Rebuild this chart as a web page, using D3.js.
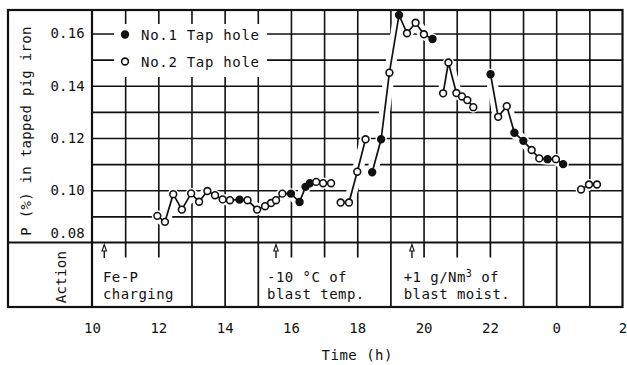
<!DOCTYPE html>
<html>
<head>
<meta charset="utf-8">
<script src="https://cdn.jsdelivr.net/npm/d3@7"></script>
<style>
  body { margin: 0; background: #fff; }
  text { font-family: "DejaVu Sans Mono", monospace; font-size: 14px; fill: #111; }
</style>
</head>
<body>
<svg id="chart" width="627" height="365"></svg>
<script>
// Data (time in hours, 24 = midnight)
const time = [
  11.97, 12.20, 12.45, 12.71, 12.99, 13.23, 13.48, 13.71, 13.94, 14.16, 14.45, 14.69,
  14.98, 15.22, 15.40, 15.55, 15.74, 16.00, 16.26, 16.44, 16.57, 16.76, 16.97, 17.21,
  17.50, 17.75, 18.00, 18.25,
  18.45, 18.72, 18.97, 19.26, 19.50, 19.76, 20.01, 20.27,
  20.59, 20.75, 20.99, 21.16, 21.32, 21.50,
  22.02, 22.25, 22.51, 22.74, 23.01, 23.26, 23.49, 23.74, 23.99, 24.21,
  24.75, 24.99, 25.23
];
const pValue = [
  0.0902, 0.0879, 0.0985, 0.0926, 0.0988, 0.0956, 0.0997, 0.0981, 0.0965, 0.0962, 0.0964, 0.0962,
  0.0926, 0.0939, 0.0951, 0.0962, 0.0987, 0.0987, 0.0955, 0.1013, 0.1027, 0.1032, 0.1027, 0.1027,
  0.0953, 0.0953, 0.1071, 0.1195,
  0.1069, 0.1195, 0.1450, 0.1671, 0.1601, 0.1641, 0.1597, 0.1579,
  0.1371, 0.1489, 0.1372, 0.1359, 0.1345, 0.1318,
  0.1444, 0.1281, 0.1322, 0.1220, 0.1189, 0.1154, 0.1122, 0.1119, 0.1119, 0.1100,
  0.1003, 0.1022, 0.1022
];
// 1 = No.1 tap hole (filled), 2 = No.2 tap hole (open)
const tapHole = [
  2, 2, 2, 2, 2, 2, 2, 2, 2, 2, 1, 2,
  2, 2, 2, 2, 2, 1, 1, 1, 1, 2, 2, 2,
  2, 2, 2, 2,
  1, 1, 2, 1, 2, 2, 2, 1,
  2, 2, 2, 2, 2, 2,
  1, 2, 2, 1, 1, 2, 2, 1, 2, 1,
  2, 2, 2
];
// connected runs of the line
const run = [
  0, 0, 0, 0, 0, 0, 0, 0, 0, 0, 0, 0,
  0, 0, 0, 0, 0, 0, 0, 0, 0, 0, 0, 0,
  1, 1, 1, 1,
  2, 2, 2, 2, 2, 2, 2, 2,
  3, 3, 3, 3, 3, 3,
  4, 4, 4, 4, 4, 4, 4, 4, 4, 4,
  5, 5, 5
];

const legendLabels = ["No.1 Tap hole", "No.2 Tap hole"];
const xTicks = [10, 12, 14, 16, 18, 20, 22, 24, 26];
const yTicks = [0.08, 0.10, 0.12, 0.14, 0.16];
const yGrid = [0.09, 0.10, 0.11, 0.12, 0.13, 0.14, 0.15, 0.16];
const xGrid = [11, 12, 13, 14, 15, 16, 17, 18, 19, 20, 21, 22, 23, 24, 25];
const actionFullLines = [13, 14, 15, 19, 23, 24, 25];
const actionShortTicks = [11, 12, 16, 17, 18, 20, 21, 22];
const actionTimes = [10.37, 15.55, 19.65];
const actionTextTime = [10.33, 15.28, 19.40];
const actionLine1 = ["Fe-P", "-10 °C of", "+1 g/Nm|3| of"];
const actionLine2 = ["charging", "blast temp.", "blast moist."];

// Layout
const frame = {left: 8, top: 10, right: 622.5, bottom: 307};
const plot = {left: 92, right: 622.5, top: 10, bottom: 242.5};
const ink = "#111";

const svg = d3.select("#chart");

const x = d3.scaleLinear().domain([10, 26]).range([plot.left, plot.right]);
const y = d3.scaleLinear().domain([0.08, 0.16]).range([plot.bottom, 33.5]);

const points = time.map((t, i) => ({t: t, p: pValue[i], hole: tapHole[i], run: run[i]}));
const runs = Array.from(d3.group(points, d => d.run).values());

// Gridlines
const vGrid = svg.append("g")
  .attr("transform", `translate(0, ${plot.bottom})`)
  .call(d3.axisBottom(x).tickValues(xGrid).tickSize(-(plot.bottom - plot.top)).tickFormat(""));
vGrid.select(".domain").remove();
vGrid.selectAll("line").attr("stroke", ink).attr("stroke-width", 1.6);

const hGrid = svg.append("g")
  .attr("transform", `translate(${plot.left}, 0)`)
  .call(d3.axisLeft(y).tickValues(yGrid).tickSize(-(plot.right - plot.left)).tickFormat(""));
hGrid.select(".domain").remove();
hGrid.selectAll("line").attr("stroke", ink).attr("stroke-width", 1.6);

// Line generator
const line = d3.line().x(d => x(d.t)).y(d => y(d.p));

// white halo where the grid is broken around the data
svg.append("g").selectAll("path")
  .data(runs)
  .join("path")
  .attr("d", line)
  .attr("fill", "none")
  .attr("stroke", "#fff")
  .attr("stroke-width", 11)
  .attr("stroke-linejoin", "round")
  .attr("stroke-linecap", "round");

// Legend box (covers grid)
svg.append("rect")
  .attr("x", 114).attr("y", 24)
  .attr("width", 153).attr("height", 53)
  .attr("fill", "#fff");

// Frame
svg.append("rect")
  .attr("x", frame.left).attr("y", frame.top)
  .attr("width", frame.right - frame.left).attr("height", frame.bottom - frame.top)
  .attr("fill", "none").attr("stroke", ink).attr("stroke-width", 2.2);
svg.append("line")
  .attr("x1", plot.left).attr("x2", plot.left)
  .attr("y1", frame.top).attr("y2", frame.bottom)
  .attr("stroke", ink).attr("stroke-width", 2.2);
svg.append("line")
  .attr("x1", frame.left).attr("x2", frame.right)
  .attr("y1", plot.bottom).attr("y2", plot.bottom)
  .attr("stroke", ink).attr("stroke-width", 2.2);

// Data lines
svg.append("g").selectAll("path")
  .data(runs)
  .join("path")
  .attr("d", line)
  .attr("fill", "none")
  .attr("stroke", ink)
  .attr("stroke-width", 1.7);

svg.append("g").selectAll("circle")
  .data(points)
  .join("circle")
  .attr("cx", d => x(d.t))
  .attr("cy", d => y(d.p))
  .attr("r", 3.4)
  .attr("fill", d => d.hole === 1 ? ink : "#fff")
  .attr("stroke", ink)
  .attr("stroke-width", 1.6);

// Legend
const legend = svg.append("g");
legendLabels.forEach((label, i) => {
  const cy = 34.5 + i * 27;
  legend.append("circle")
    .attr("cx", 125).attr("cy", cy).attr("r", 3.4)
    .attr("fill", i === 0 ? ink : "#fff")
    .attr("stroke", ink).attr("stroke-width", 1.6);
  legend.append("text")
    .attr("x", 141).attr("y", cy + 5)
    .attr("letter-spacing", "0.7px")
    .text(label);
});

// Y axis labels
const yAxis = svg.append("g")
  .attr("transform", `translate(${plot.left}, 0)`)
  .call(d3.axisLeft(y).tickValues(yTicks).tickFormat(d3.format(".2f")).tickSize(0).tickPadding(7));
yAxis.select(".domain").remove();
yAxis.attr("font-family", null).attr("font-size", null);
yAxis.selectAll("text").attr("letter-spacing", "0.2px");
yAxis.selectAll(".tick").filter(d => d === 0.08).select("text").attr("y", -9.5);

svg.append("text")
  .attr("transform", "translate(31, 131) rotate(-90)")
  .attr("text-anchor", "middle")
  .attr("letter-spacing", "0.3px")
  .text("P (%) in tapped pig iron");

svg.append("text")
  .attr("transform", "translate(66, 277) rotate(-90)")
  .attr("text-anchor", "middle")
  .attr("letter-spacing", "0.3px")
  .text("Action");

// Action panel lines
const actFull = svg.append("g")
  .attr("transform", `translate(0, ${plot.bottom})`)
  .call(d3.axisBottom(x).tickValues(actionFullLines).tickSize(frame.bottom - plot.bottom).tickFormat(""));
actFull.select(".domain").remove();
actFull.selectAll("line").attr("stroke", ink).attr("stroke-width", 1.7);

const actShort = svg.append("g")
  .attr("transform", `translate(0, ${plot.bottom})`)
  .call(d3.axisBottom(x).tickValues(actionShortTicks).tickSize(15).tickFormat(""));
actShort.select(".domain").remove();
actShort.selectAll("line").attr("stroke", ink).attr("stroke-width", 1.7);

// Action arrows
const arrows = svg.append("g");
actionTimes.forEach(t => {
  const ax = x(t);
  arrows.append("line")
    .attr("x1", ax).attr("x2", ax)
    .attr("y1", 258).attr("y2", 247)
    .attr("stroke", ink).attr("stroke-width", 1.4);
  arrows.append("path")
    .attr("d", `M${ax - 2.2},251 L${ax},244.5 L${ax + 2.2},251 Z`)
    .attr("fill", "#fff").attr("stroke", ink).attr("stroke-width", 1.1);
});

// Action texts
actionTextTime.forEach((t, i) => {
  const t1 = svg.append("text")
    .attr("x", x(t)).attr("y", 282)
    .attr("letter-spacing", "0.45px");
  actionLine1[i].split("|").forEach((part, j) => {
    const ts = t1.append("tspan").text(part);
    if (j === 1) ts.attr("baseline-shift", "super").attr("font-size", "10px");
  });
  svg.append("text")
    .attr("x", x(t)).attr("y", 299)
    .attr("letter-spacing", "0.45px")
    .text(actionLine2[i]);
});

// X axis labels
const xAxis = svg.append("g")
  .attr("transform", `translate(0, ${frame.bottom})`)
  .call(d3.axisBottom(x).tickValues(xTicks).tickFormat(d => d % 24).tickSize(0));
xAxis.select(".domain").remove();
xAxis.attr("font-family", null).attr("font-size", null);
xAxis.selectAll("text").attr("y", 26).attr("dy", 0);

svg.append("text")
  .attr("x", x(18)).attr("y", 360)
  .attr("text-anchor", "middle")
  .attr("letter-spacing", "0.5px")
  .text("Time (h)");
</script>
</body>
</html>
